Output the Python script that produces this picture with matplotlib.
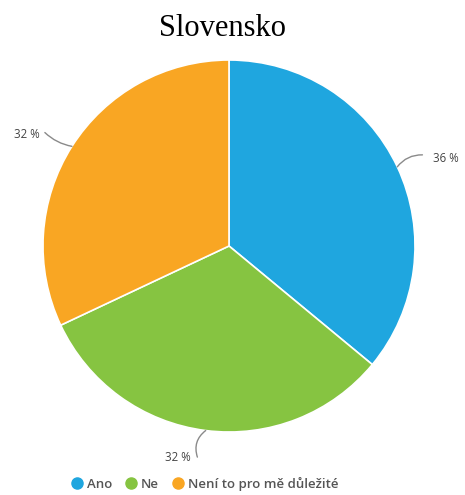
import numpy as np
import matplotlib
matplotlib.use("Agg")
import matplotlib.pyplot as plt
from matplotlib.lines import Line2D

# Survey answers for Slovakia
categories = ["Ano", "Ne", "Není to pro mě důležité"]
values = [36, 32, 32]
colors = ["#1fa6df", "#86c441", "#f9a623"]
title = "Slovensko"

W, H, DPI = 465, 495, 100
fig = plt.figure(figsize=(W / DPI, H / DPI), dpi=DPI)
fig.patch.set_facecolor("white")

# Pie geometry in pixels
cx, cy, R = 229, 246, 186
ax = fig.add_axes([0, 0, 1, 1])
wedges, _ = ax.pie(values, colors=colors, startangle=90, counterclock=False,
                   radius=1.0, center=(0, 0),
                   wedgeprops=dict(edgecolor="white", linewidth=1.2))
ax.set_xlim(-cx / R, (W - cx) / R)
ax.set_ylim(-(H - cy) / R, cy / R)
ax.set_aspect("auto")
ax.axis("off")

# Label callouts: elbow point offset and text offset (in radius units)
label_layout = [
    dict(elbow=(1.04, 0.49), text=(1.095, 0.47), ha="left", rad=0.25),
    dict(elbow=(-0.17, -1.135), text=(-0.205, -1.135), ha="right", rad=-0.35),
    dict(elbow=(-0.99, 0.61), text=(-1.02, 0.60), ha="right", rad=0.15),
]

total = sum(values)
start = 0.0
for v, lay in zip(values, label_layout):
    mid = start + v / total * 360 / 2
    start += v / total * 360
    th = np.deg2rad(mid)
    ex, ey = np.sin(th), np.cos(th)
    ax.annotate("", xy=(ex, ey), xytext=lay["elbow"],
                arrowprops=dict(arrowstyle="-", color="#8a8a8a", lw=1.0,
                                shrinkA=0, shrinkB=0,
                                connectionstyle=f"arc3,rad={lay['rad']}"))
    ax.text(lay["text"][0], lay["text"][1], f"{v} %", ha=lay["ha"], va="center",
            fontsize=8.3, color="#444444", family="Open Sans")

fig.text(222 / W, 1 - 28 / H, title, ha="center", va="center",
         fontsize=22, family="Liberation Serif", color="black")

handles = [Line2D([], [], marker="o", linestyle="", markersize=8,
                  markerfacecolor=c, markeredgecolor=c) for c in colors]
leg = fig.legend(handles, categories, loc="center", bbox_to_anchor=(205 / W, 1 - 484 / H),
                 ncol=3, frameon=False, handletextpad=0.35, columnspacing=1.05,
                 handlelength=0.8, prop=dict(family="Open Sans", size=9.5, weight="semibold"))
for t in leg.get_texts():
    t.set_color("#555555")

fig.savefig("out.png", dpi=DPI, facecolor="white")
